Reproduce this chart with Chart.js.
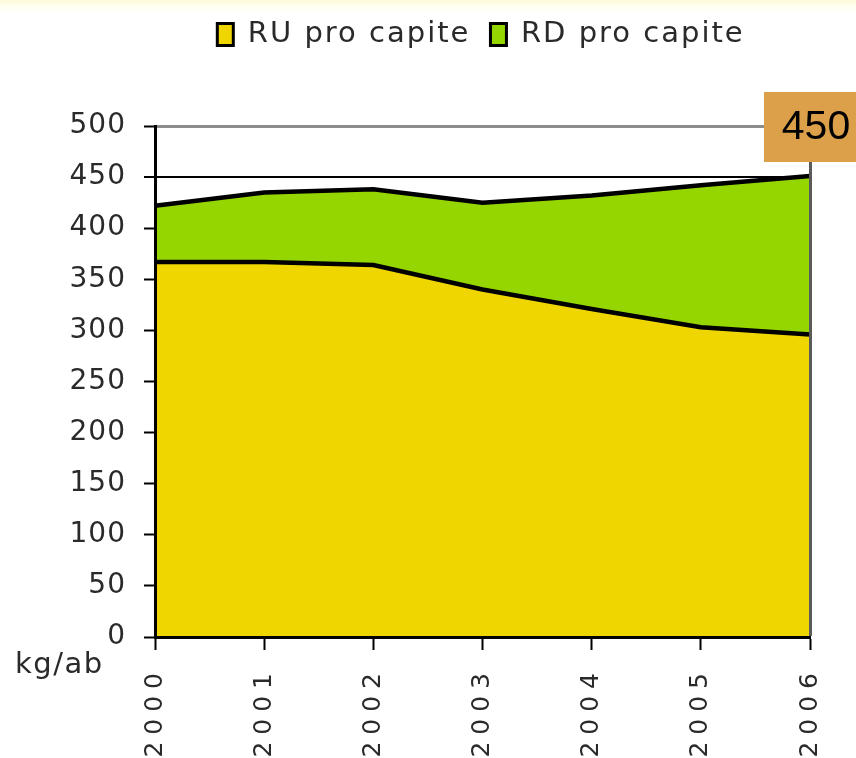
<!DOCTYPE html>
<html>
<head>
<meta charset="utf-8">
<title>RU e RD pro capite</title>
<script src="https://cdn.jsdelivr.net/npm/chart.js@4"></script>
<style>
  html, body { margin: 0; padding: 0; }
  body {
    width: 856px;
    height: 758px;
    overflow: hidden;
    background: linear-gradient(#fbfbd8 0, #ffffee 6px, #fff 14px);
  }
  canvas { display: block; }
</style>
</head>
<body>
<canvas id="chart" width="856" height="758"></canvas>
<script>
// Values (kg per inhabitant)
const years = ["2000", "2001", "2002", "2003", "2004", "2005", "2006"];
const ruProCapite = [367, 367, 364, 340, 321, 303, 296];
const rdProCapite = [55, 68, 74, 85, 111, 139, 155];
const yTicks = [0, 50, 100, 150, 200, 250, 300, 350, 400, 450, 500];
const targetValue = 450;
const unitLabel = "kg/ab";

const FONT = '"DejaVu Sans", Verdana, sans-serif';
const TEXT = "#2a2a2a";

// Scales that draw their tick labels with a bit of letter spacing
// (and without clipping them to the scale box)
function spacedScale(type, id, spacing) {
  const Base = Chart.registry.getScale(type);
  class Spaced extends Base {
    _computeLabelArea() {
      return null;
    }
    drawLabels(area) {
      this.ctx.save();
      this.ctx.letterSpacing = spacing;
      super.drawLabels(area);
      this.ctx.restore();
    }
  }
  Spaced.id = id;
  Spaced.defaults = Base.defaults;
  return Spaced;
}
Chart.register(
  spacedScale("category", "spacedCategory", "7px"),
  spacedScale("linear", "spacedLinear", "1px")
);

// Legend spacing, unit label and the orange "450" box
const extras = {
  id: "extras",
  beforeLayout(chart) {
    chart.ctx.letterSpacing = "2px";
  },
  afterDraw(chart) {
    const { ctx, chartArea, scales } = chart;
    const y0 = scales.y.getPixelForValue(0);
    const yTop = scales.y.getPixelForValue(500);

    ctx.save();
    ctx.letterSpacing = "1.5px";
    ctx.font = "29px " + FONT;
    ctx.fillStyle = TEXT;
    ctx.textAlign = "left";
    ctx.textBaseline = "alphabetic";
    ctx.fillText(unitLabel, chartArea.left - 140, y0 + 36);

    ctx.fillStyle = "#dba049";
    ctx.fillRect(chart.width - 92, yTop - 34, 92, 70);
    ctx.letterSpacing = "0px";
    ctx.font = '41px "Liberation Sans", Arial, sans-serif';
    ctx.fillStyle = "#000";
    ctx.textAlign = "center";
    ctx.textBaseline = "middle";
    ctx.fillText(String(targetValue), chart.width - 40, yTop + 2);
    ctx.restore();
  }
};

const lastIdx = years.length - 1;
const defaultLabels = Chart.defaults.plugins.legend.labels.generateLabels;

new Chart(document.getElementById("chart"), {
  type: "line",
  data: {
    labels: years,
    datasets: [
      {
        label: "RU pro capite",
        data: ruProCapite,
        backgroundColor: "#efd600",
        borderColor: "#000",
        borderWidth: 4.5,
        fill: "origin",
        pointRadius: 0,
        tension: 0
      },
      {
        label: "RD pro capite",
        data: rdProCapite,
        backgroundColor: "#95d600",
        borderColor: "#000",
        borderWidth: 4.5,
        fill: "-1",
        pointRadius: 0,
        tension: 0
      }
    ]
  },
  options: {
    responsive: false,
    animation: false,
    events: [],
    layout: { padding: { top: 0, left: 132, right: 26, bottom: 0 } },
    plugins: {
      tooltip: { enabled: false },
      legend: {
        position: "top",
        align: "center",
        labels: {
          color: TEXT,
          font: { family: FONT, size: 29 },
          boxWidth: 16,
          boxHeight: 22,
          padding: 20,
          generateLabels: (chart) =>
            defaultLabels(chart).map((l) => ({ ...l, lineWidth: 3 }))
        }
      },
      // empty title used as a spacer between legend and plot
      title: {
        display: true,
        text: "",
        weight: 500,
        padding: { top: 0, bottom: 57 },
        font: { size: 10, lineHeight: 1 }
      }
    },
    scales: {
      x: {
        type: "spacedCategory",
        offset: false,
        afterFit(s) { s.height = 121; },
        grid: {
          z: 1,
          color: (c) => (c.index === lastIdx ? "#5a5a5a" : "rgba(0,0,0,0)"),
          lineWidth: (c) => (c.index === lastIdx ? 3 : 1),
          tickColor: "#000",
          tickWidth: 2,
          tickLength: 13
        },
        border: { color: "#000", width: 3, z: 1 },
        ticks: {
          color: TEXT,
          font: { family: FONT, size: 25 },
          minRotation: 90,
          maxRotation: 90,
          autoSkip: false,
          padding: 16
        }
      },
      y: {
        type: "spacedLinear",
        stacked: true,
        min: 0,
        max: 500,
        afterBuildTicks(s) { s.ticks = yTicks.map((v) => ({ value: v })); },
        afterFit(s) { s.width = 23; },
        grid: {
          color: (c) => {
            const v = c.tick && c.tick.value;
            if (v === 500) return "#8c8c8c";
            if (v === targetValue) return "#000";
            return "rgba(0,0,0,0)";
          },
          lineWidth: (c) => {
            const v = c.tick && c.tick.value;
            return v === 500 ? 3 : v === targetValue ? 2 : 1;
          },
          tickColor: "#000",
          tickWidth: 2,
          tickLength: 11
        },
        border: { color: "#000", width: 3, z: 1 },
        ticks: {
          color: TEXT,
          font: { family: FONT, size: 28 },
          padding: 18
        }
      }
    }
  },
  plugins: [extras]
});
</script>
</body>
</html>
